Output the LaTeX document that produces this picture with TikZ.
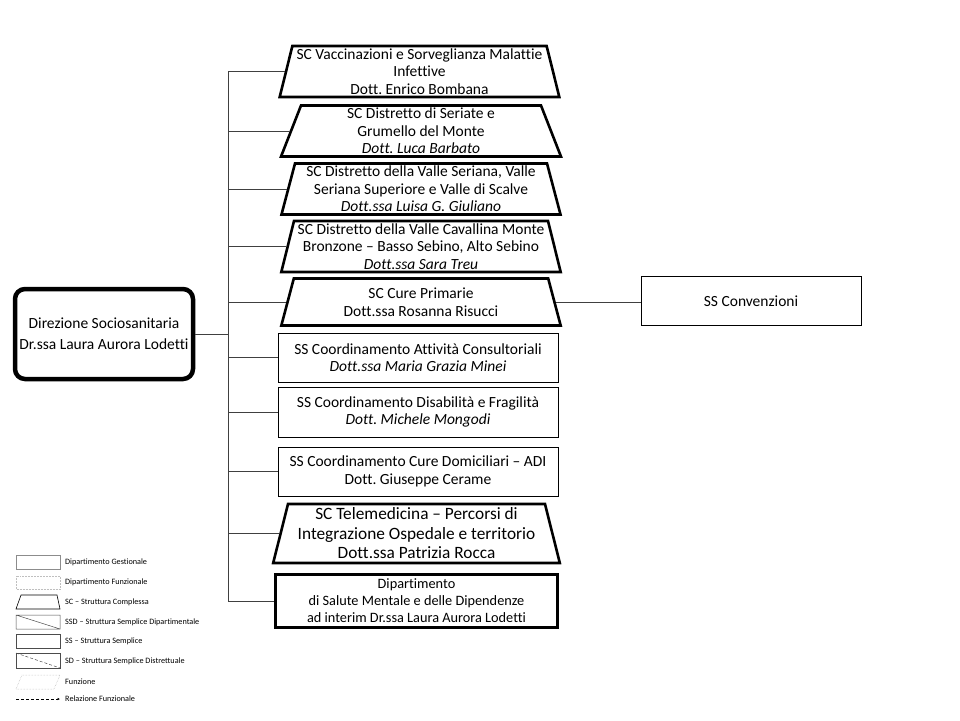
\documentclass[tikz,border=0pt]{standalone}
\usepackage{fontspec}
\setmainfont{Carlito}[Ligatures=NoCommon]
\usepackage{tikz}
\usetikzlibrary{positioning, arrows.meta, shapes.geometric}
\frenchspacing

\begin{document}
\begin{tikzpicture}[
    x=1pt, y=-1pt,
    every node/.style={font=\fontsize{15.5}{17.5}\selectfont},
    sc/.style={trapezium, draw, line width=2.6pt, trapezium stretches=true,
        trapezium left angle=75, trapezium right angle=75,
        minimum width=280pt, minimum height=51pt, align=center, inner sep=0pt},
    ss/.style={rectangle, draw, line width=0.8pt, minimum width=280pt,
        minimum height=49pt, align=center, inner sep=0pt},
    dip/.style={rectangle, draw, line width=2.6pt, minimum width=282pt,
        minimum height=53pt, align=center, inner sep=0pt},
    boss/.style={rectangle, draw, line width=4.5pt, rounded corners=10pt,
        minimum width=178pt, minimum height=90pt, align=center},
    link/.style={draw=black!75, line width=0.8pt},
    legtext/.style={anchor=west, inner sep=0pt, font=\fontsize{8.2}{9}\selectfont}
]
\useasboundingbox (0,0) rectangle (960,720);

% direzione
\node[boss, font=\fontsize{15.5}{21}\selectfont] (dir) at (104,334) {Direzione Sociosanitaria\\Dr.ssa Laura Aurora Lodetti};

% strutture
\node[sc] (vacc) at (419.5,71.5) {SC Vaccinazioni e Sorveglianza Malattie\\Infettive\\Dott. Enrico Bombana};
\node[sc] (seriate) at (421,131) {SC Distretto di Seriate e\\Grumello del Monte\\\textit{Dott. Luca Barbato}};
\node[sc] (valseriana) at (421,189) {SC Distretto della Valle Seriana, Valle\\Seriana Superiore e Valle di Scalve\\\textit{Dott.ssa Luisa G. Giuliano}};
\node[sc] (cavallina) at (421,246.5) {SC Distretto della Valle Cavallina Monte\\Bronzone -- Basso Sebino, Alto Sebino\\\textit{Dott.ssa Sara Treu}};
\node[sc, minimum height=47pt] (cure) at (421,302) {SC Cure Primarie\\Dott.ssa Rosanna Risucci};
\node[ss] (consult) at (418,357.5) {SS Coordinamento Attività Consultoriali\\\textit{Dott.ssa Maria Grazia Minei}};
\node[ss, minimum height=50pt] (disab) at (418,412) {SS Coordinamento Disabilità e Fragilità\\\textit{Dott. Michele Mongodi}};
\node[ss] (adi) at (418,471.5) {SS Coordinamento Cure Domiciliari -- ADI\\Dott. Giuseppe Cerame};
\node[sc, minimum width=287pt, minimum height=59pt,
    font=\fontsize{17.3}{19.5}\selectfont] (telemed) at (416.5,533.5) {SC Telemedicina -- Percorsi di\\Integrazione Ospedale e territorio\\Dott.ssa Patrizia Rocca};
\node[dip, font=\fontsize{14.3}{17}\selectfont] (dsmd) at (416.5,601) {Dipartimento\\di Salute Mentale e delle Dipendenze\\ad interim Dr.ssa Laura Aurora Lodetti};
\node[ss, minimum width=220pt] (conv) at (751,301) {SS Convenzioni};

% collegamenti
\coordinate (trunk) at (228,0);
\draw[link] (trunk |- vacc.west) -- (trunk |- dsmd.west);
\draw[link] (dir.east) -- (trunk |- dir.east);
\foreach \n in {vacc,seriate,valseriana,cavallina,cure,consult,disab,adi,telemed,dsmd}
    \draw[link] (trunk |- \n.west) -- (\n.west);
\draw[link] (cure.east) -- (cure.east -| conv.west);

% legenda
\draw[black!45, line width=0.5pt] (16,555) rectangle (60,569);
\node[legtext] (lg1) at (65,562) {Dipartimento Gestionale};
\draw[black!25, line width=0.5pt, densely dotted] (16,576) rectangle (60,589);
\node[legtext] (lg2) at (65,582.5) {Dipartimento Funzionale};
\draw[line width=0.6pt] (16,609) -- (21,595) -- (57,595) -- (60,609) -- cycle;
\node[legtext] (lg3) at (65,602) {SC -- Struttura Complessa};
\draw[black!70, line width=0.5pt] (16,615) rectangle (60,629) (16,615) -- (60,629);
\node[legtext] (lg4) at (65,622) {SSD -- Struttura Semplice Dipartimentale};
\draw[black!70, line width=0.5pt] (16,634) rectangle (60,648);
\node[legtext] (lg5) at (65,641.5) {SS -- Struttura Semplice};
\draw[black!70, line width=0.5pt] (16,653) rectangle (60,668);
\draw[black!70, line width=0.5pt, densely dashed] (16,653) -- (60,668);
\node[legtext] (lg6) at (65,661) {SD -- Struttura Semplice Distrettuale};
\draw[black!30, line width=0.5pt, densely dotted] (16,689) -- (22,675) -- (60,675) -- (54,689) -- cycle;
\node[legtext] (lg7) at (65,682) {Funzione};
\draw[line width=0.9pt, dash pattern=on 3pt off 2pt, -{Latex[length=2.5pt, width=2.5pt]}] (16,699) -- (60,699);
\node[legtext] (lg8) at (65,698.5) {Relazione Funzionale};

\end{tikzpicture}
\end{document}
